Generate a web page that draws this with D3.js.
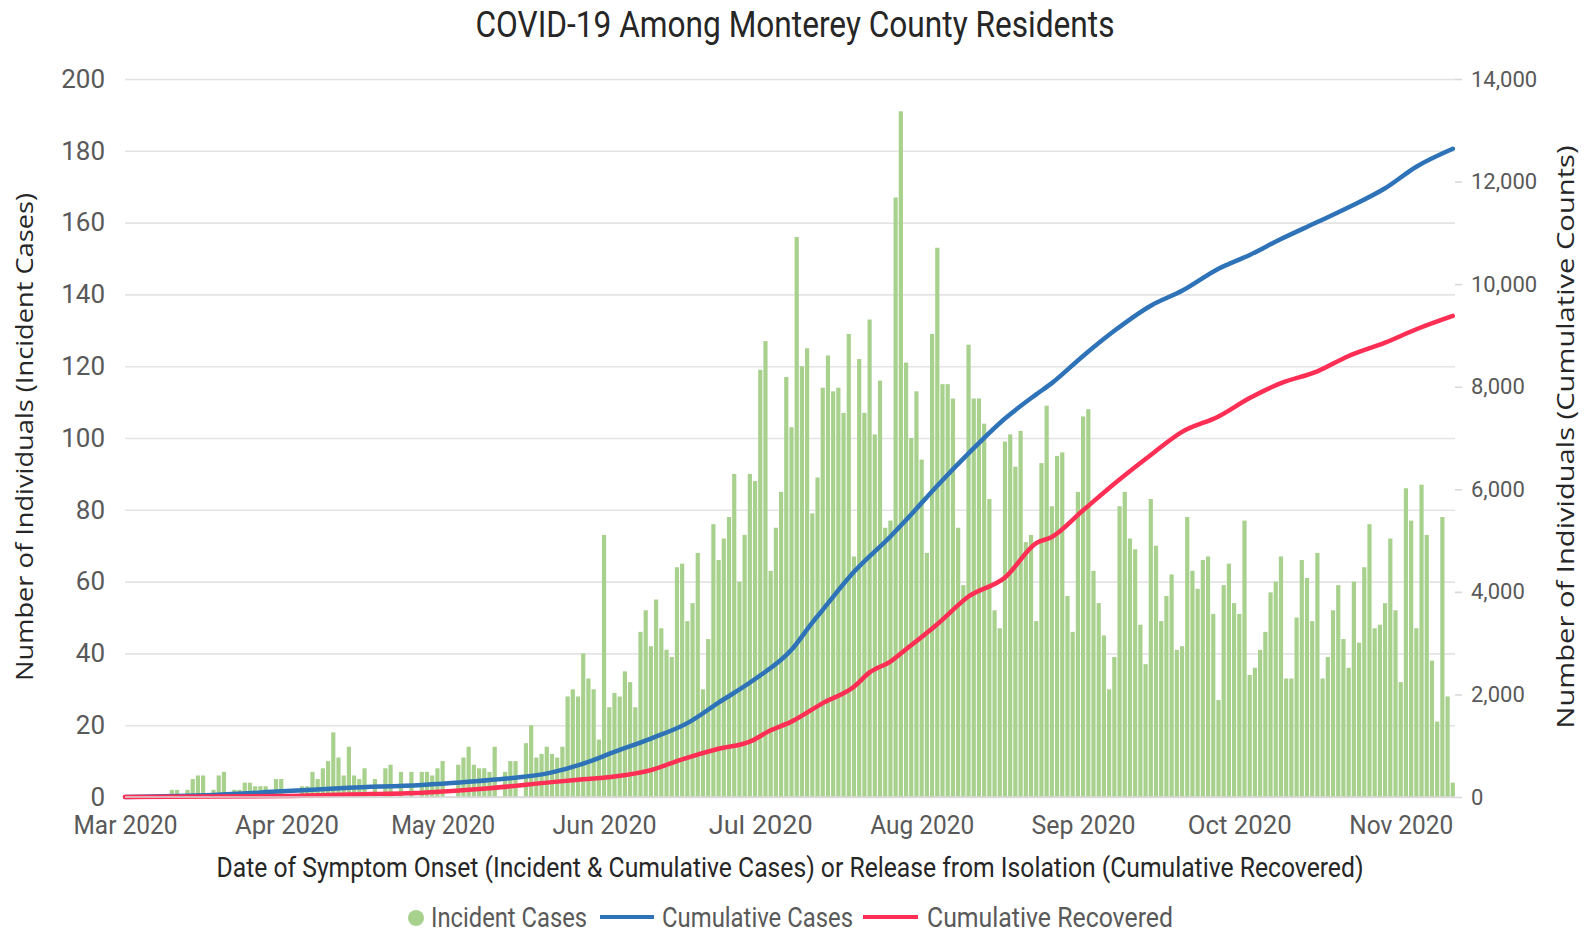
<!DOCTYPE html>
<html>
<head>
<meta charset="utf-8">
<script src="https://cdn.jsdelivr.net/npm/d3@7"></script>
<style>
  body { margin: 0; background: #fff; }
  .narrow { font-family: "Liberation Sans Narrow", "Arial Narrow", "Roboto", sans-serif; }
</style>
</head>
<body>
<div id="chart"></div>
<script>
// daily incident cases, one value per day starting on startDate
var startDate = "2020-03-01";
var incidentCases = [
  0, 0, 0, 0, 0, 0, 0, 0, 0, 2, 2, 0, 2, 5, 6, 6, 0, 2, 6, 7,
  0, 2, 2, 4, 4, 3, 3, 3, 0, 5, 5, 0, 0, 0, 3, 3, 7, 5, 8, 10,
  18, 11, 6, 14, 6, 5, 8, 0, 5, 0, 8, 9, 0, 7, 0, 7, 0, 7, 7, 6,
  8, 10, 0, 0, 9, 11, 14, 9, 8, 8, 7, 14, 0, 7, 10, 10, 0, 15, 20, 11,
  12, 14, 12, 11, 14, 28, 30, 28, 40, 33, 30, 16, 73, 25, 29, 28, 35, 32, 25, 46,
  52, 42, 55, 47, 41, 39, 64, 65, 49, 54, 68, 30, 44, 76, 66, 72, 78, 90, 60, 73,
  90, 88, 119, 127, 63, 75, 85, 117, 103, 156, 120, 125, 79, 89, 114, 123, 113, 114, 107, 129,
  67, 122, 107, 133, 101, 116, 75, 77, 167, 191, 121, 100, 113, 94, 68, 129, 153, 115, 115, 111,
  75, 59, 126, 111, 111, 104, 83, 52, 47, 99, 101, 92, 102, 71, 73, 49, 93, 109, 81, 95,
  96, 56, 46, 85, 106, 108, 63, 54, 45, 30, 39, 81, 85, 72, 69, 48, 37, 83, 70, 49,
  56, 62, 41, 42, 78, 63, 58, 66, 67, 51, 27, 59, 65, 54, 51, 77, 34, 36, 41, 46,
  57, 60, 67, 33, 33, 50, 66, 61, 49, 68, 33, 39, 52, 59, 44, 36, 60, 43, 64, 76,
  47, 48, 54, 72, 52, 32, 86, 77, 47, 87, 73, 38, 21, 78, 28, 4
];

// cumulative cases (right axis)
var casesDates = ["2020-03-01", "2020-03-18", "2020-03-31", "2020-04-13", "2020-04-27", "2020-05-10",
  "2020-05-22", "2020-05-28", "2020-06-03", "2020-06-10", "2020-06-17", "2020-06-23", "2020-06-30",
  "2020-07-07", "2020-07-11", "2020-07-13", "2020-07-19", "2020-07-26", "2020-07-29", "2020-08-04",
  "2020-08-10", "2020-08-17", "2020-08-23", "2020-08-26", "2020-09-01", "2020-09-07", "2020-09-14",
  "2020-09-20", "2020-09-27", "2020-10-03", "2020-10-09", "2020-10-16", "2020-10-22", "2020-10-29",
  "2020-11-04", "2020-11-11"];
var casesTotals = [0, 40, 110, 180, 235, 330,
  480, 650, 880, 1140, 1440, 1840, 2300,
  2870, 3400, 3650, 4390, 5080, 5400, 6070,
  6700, 7380, 7850, 8070, 8600, 9090, 9580,
  9870, 10300, 10570, 10880, 11210, 11500, 11870,
  12290, 12640];

// cumulative recovered (right axis)
var recoveredDates = ["2020-03-01", "2020-03-31", "2020-04-13", "2020-04-27", "2020-05-10", "2020-05-22",
  "2020-05-28", "2020-06-03", "2020-06-10", "2020-06-16", "2020-06-23", "2020-06-29", "2020-07-03",
  "2020-07-07", "2020-07-13", "2020-07-19", "2020-07-22", "2020-07-26", "2020-07-29", "2020-08-04",
  "2020-08-10", "2020-08-17", "2020-08-23", "2020-08-26", "2020-09-01", "2020-09-07", "2020-09-14",
  "2020-09-20", "2020-09-27", "2020-10-03", "2020-10-09", "2020-10-16", "2020-10-22", "2020-10-29",
  "2020-11-04", "2020-11-11"];
var recoveredTotals = [0, 20, 50, 85, 170, 290,
  345, 400, 525, 735, 940, 1080, 1300,
  1470, 1830, 2150, 2430, 2640, 2880, 3370,
  3910, 4280, 4950, 5070, 5590, 6110, 6670,
  7120, 7420, 7780, 8070, 8300, 8600, 8860,
  9120, 9380];

var monthTicks = ["2020-03-01", "2020-04-01", "2020-05-01", "2020-06-01", "2020-07-01",
  "2020-08-01", "2020-09-01", "2020-10-01", "2020-11-01"];
var leftTicks = [0, 20, 40, 60, 80, 100, 120, 140, 160, 180, 200];
var rightTicks = [0, 2000, 4000, 6000, 8000, 10000, 12000, 14000];

var width = 1589, height = 936;
var plotLeft = 125, plotRight = 1455, plotTop = 79, plotBottom = 797;
var parse = d3.timeParse("%Y-%m-%d");
var start = parse(startDate);

var bars = incidentCases.map(function(v, i) {
  return {date: d3.timeDay.offset(start, i), value: v};
});
var casesLine = casesDates.map(function(d, i) { return {date: parse(d), value: casesTotals[i]}; });
var recLine = recoveredDates.map(function(d, i) { return {date: parse(d), value: recoveredTotals[i]}; });

var x = d3.scaleTime()
    .domain([start, d3.timeDay.offset(start, 256)])
    .range([plotLeft, 1458]);
var yL = d3.scaleLinear().domain([0, 200]).range([plotBottom, plotTop]);
var yR = d3.scaleLinear().domain([0, 14000]).range([plotBottom, plotTop]);

var svg = d3.select("#chart")
    .append("svg")
    .attr("width", width)
    .attr("height", height)
    .style("background", "#fff");

// gridlines
var grid = svg.append("g")
    .attr("transform", "translate(" + plotLeft + ",0)")
    .call(d3.axisLeft(yL).tickValues(leftTicks).tickSize(-(plotRight - plotLeft)).tickFormat(""));
grid.select(".domain").remove();
grid.selectAll("line").attr("stroke", "#e4e4e4").attr("stroke-width", 1.6);

// incident bars
var barW = 4.2;
svg.append("g")
    .selectAll("rect")
    .data(bars.filter(function(d) { return d.value > 0; }))
    .enter()
    .append("rect")
    .attr("x", function(d) { return x(d.date) - barW / 2; })
    .attr("y", function(d) { return yL(d.value); })
    .attr("width", barW)
    .attr("height", function(d) { return yL(0) - yL(d.value); })
    .attr("fill", "#a9d18e");

var line = d3.line()
    .x(function(d) { return x(d.date); })
    .y(function(d) { return yR(d.value); })
    .curve(d3.curveMonotoneX);

svg.append("path")
    .datum(casesLine)
    .attr("d", line)
    .attr("fill", "none")
    .attr("stroke", "#2e72b8")
    .attr("stroke-width", 4.5)
    .attr("stroke-linecap", "round");

svg.append("path")
    .datum(recLine)
    .attr("d", line)
    .attr("fill", "none")
    .attr("stroke", "#ff2e55")
    .attr("stroke-width", 4.5)
    .attr("stroke-linecap", "round");

// left axis
var gl = svg.append("g")
    .attr("class", "narrow")
    .attr("transform", "translate(" + plotLeft + ",0)")
    .call(d3.axisLeft(yL).tickValues(leftTicks).tickSize(0).tickPadding(20));
gl.select(".domain").remove();
gl.selectAll("text")
    .attr("font-family", null)
    .attr("font-size", 26)
    .attr("fill", "#595959");

// right axis
var gr = svg.append("g")
    .attr("transform", "translate(" + plotRight + ",0)")
    .call(d3.axisRight(yR).tickValues(rightTicks).tickSize(7).tickPadding(9).tickFormat(d3.format(",")));
gr.select(".domain").remove();
gr.selectAll("line").attr("stroke", "#d9d9d9").attr("stroke-width", 1.6);
gr.selectAll("text")
    .attr("font-family", "Roboto, sans-serif")
    .attr("font-size", 22)
    .attr("fill", "#595959");

// bottom axis
var gb = svg.append("g")
    .attr("class", "narrow")
    .attr("transform", "translate(0," + plotBottom + ")")
    .call(d3.axisBottom(x)
        .tickValues(monthTicks.map(parse))
        .tickFormat(d3.timeFormat("%b %Y"))
        .tickSize(0)
        .tickPadding(19));
gb.select(".domain").attr("stroke", "#d9d9d9").attr("stroke-width", 1.6)
    .attr("d", "M" + plotLeft + ",0H" + plotRight);
gb.selectAll("text")
    .attr("font-family", null)
    .attr("font-size", 26)
    .attr("fill", "#595959")
    .attr("textLength", 104)
    .attr("lengthAdjust", "spacingAndGlyphs");

// titles
svg.append("text")
    .attr("class", "narrow")
    .attr("x", 795).attr("y", 37)
    .attr("text-anchor", "middle")
    .attr("font-size", 36)
    .attr("fill", "#262626")
    .attr("textLength", 639)
    .attr("lengthAdjust", "spacingAndGlyphs")
    .text("COVID-19 Among Monterey County Residents");

svg.append("text")
    .attr("class", "narrow")
    .attr("x", 790).attr("y", 877)
    .attr("text-anchor", "middle")
    .attr("font-size", 28)
    .attr("fill", "#262626")
    .attr("textLength", 1147)
    .attr("lengthAdjust", "spacingAndGlyphs")
    .text("Date of Symptom Onset (Incident & Cumulative Cases) or Release from Isolation (Cumulative Recovered)");

svg.append("text")
    .attr("transform", "translate(33,437) rotate(-90)")
    .attr("text-anchor", "middle")
    .attr("font-family", "'Open Sans', sans-serif")
    .attr("font-size", 23)
    .attr("fill", "#262626")
    .attr("textLength", 488)
    .attr("lengthAdjust", "spacingAndGlyphs")
    .text("Number of Individuals (Incident Cases)");

svg.append("text")
    .attr("transform", "translate(1574,437) rotate(-90)")
    .attr("text-anchor", "middle")
    .attr("font-family", "'Open Sans', sans-serif")
    .attr("font-size", 23)
    .attr("fill", "#262626")
    .attr("textLength", 583)
    .attr("lengthAdjust", "spacingAndGlyphs")
    .text("Number of Individuals (Cumulative Counts)");

// legend
var legend = svg.append("g").attr("class", "narrow");
legend.append("circle")
    .attr("cx", 416).attr("cy", 918).attr("r", 8)
    .attr("fill", "#a9d18e");
legend.append("line")
    .attr("x1", 600).attr("x2", 654).attr("y1", 917).attr("y2", 917)
    .attr("stroke", "#2e72b8").attr("stroke-width", 4);
legend.append("line")
    .attr("x1", 863).attr("x2", 918).attr("y1", 917).attr("y2", 917)
    .attr("stroke", "#ff2e55").attr("stroke-width", 4);

var legendItems = [
    {label: "Incident Cases", x: 431, w: 156},
    {label: "Cumulative Cases", x: 662, w: 191},
    {label: "Cumulative Recovered", x: 927, w: 246}
];
legend.selectAll("text.leg")
    .data(legendItems)
    .enter()
    .append("text")
    .attr("class", "leg")
    .attr("x", function(d) { return d.x; })
    .attr("y", 927)
    .attr("font-size", 27)
    .attr("fill", "#595959")
    .attr("textLength", function(d) { return d.w; })
    .attr("lengthAdjust", "spacingAndGlyphs")
    .text(function(d) { return d.label; });
</script>
</body>
</html>
